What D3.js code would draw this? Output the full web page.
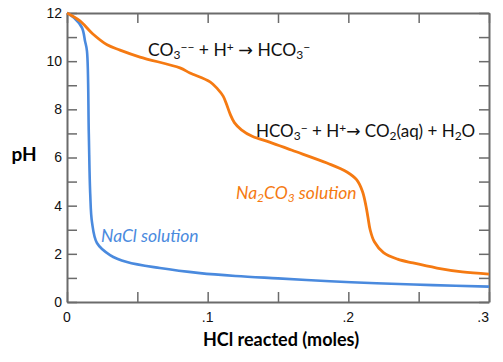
<!DOCTYPE html>
<html>
<head>
<meta charset="utf-8">
<script src="https://cdn.jsdelivr.net/npm/d3@7"></script>
<style>
  body { margin: 0; background: #fff; }
  .tick-label { font-family: "Liberation Sans", Arial, sans-serif; font-size: 14px; fill: #111; }
  .note { font-family: Lato, sans-serif; font-size: 17.5px; fill: #111; }
  .arrow { font-family: "DejaVu Sans", sans-serif; }
</style>
</head>
<body>
<svg width="503" height="362"></svg>
<script>
// Titration curves, pH vs HCl reacted (moles)
var naclX  = [0, 0.005, 0.0107, 0.0128, 0.0142, 0.0155, 0.0165, 0.0178, 0.0213, 0.0306, 0.0426, 0.066, 0.0945, 0.12, 0.15, 0.187, 0.22, 0.26, 0.3];
var naclPH = [12, 11.8, 11.38, 10.84, 10.42, 7.0, 4.5, 3.3, 2.45, 1.95, 1.66, 1.41, 1.2, 1.08, 0.98, 0.86, 0.78, 0.7, 0.64];

var carbX  = [0, 0.0092, 0.018, 0.0285, 0.0377, 0.0519, 0.0803, 0.0874, 0.1017, 0.107, 0.111, 0.1135, 0.116, 0.119, 0.124, 0.132, 0.144, 0.16, 0.1848, 0.199, 0.206, 0.21, 0.2125, 0.214, 0.2155, 0.2185, 0.225, 0.235, 0.246, 0.263, 0.281, 0.3];
var carbPH = [12, 11.67, 11.15, 10.68, 10.46, 10.17, 9.72, 9.51, 9.14, 8.85, 8.55, 8.2, 7.8, 7.45, 7.15, 6.87, 6.64, 6.3, 5.77, 5.4, 5.07, 4.6, 4.0, 3.5, 3.0, 2.5, 2.05, 1.78, 1.62, 1.41, 1.25, 1.16];

var xTicks = [0, 0.05, 0.1, 0.15, 0.2, 0.25, 0.3];
var xTickLabels = ['0', '', '.1', '', '.2', '', '.3'];
var yTicks = [0, 1, 2, 3, 4, 5, 6, 7, 8, 9, 10, 11, 12];

var svg = d3.select('svg');
var padding = {t: 13, r: 14, b: 60, l: 67};
var chartWidth = 503 - padding.l - padding.r;
var chartHeight = 362 - padding.t - padding.b;

var chartG = svg.append('g')
    .attr('transform', 'translate(' + [padding.l, padding.t] + ')');

var xScale = d3.scaleLinear().domain([0, 0.3]).range([0, chartWidth]);
var yScale = d3.scaleLinear().domain([0, 12]).range([chartHeight, 0]);

var axisColor = '#6b6b6b';
var tickLen = 10;

// frame axes, ticks point inwards
function styleAxis(g) {
    g.select('.domain').attr('stroke', axisColor).attr('stroke-width', 2);
    g.selectAll('.tick line').attr('stroke', axisColor).attr('stroke-width', 1.5);
    g.selectAll('.tick text').remove();
}

chartG.append('g')
    .attr('transform', 'translate(0,' + chartHeight + ')')
    .call(d3.axisTop(xScale).tickValues(xTicks).tickSize(tickLen).tickSizeOuter(0))
    .call(styleAxis);
chartG.append('g')
    .call(d3.axisBottom(xScale).tickValues(xTicks).tickSize(tickLen).tickSizeOuter(0))
    .call(styleAxis);
chartG.append('g')
    .call(d3.axisRight(yScale).tickValues(yTicks).tickSize(tickLen).tickSizeOuter(0))
    .call(styleAxis);
chartG.append('g')
    .attr('transform', 'translate(' + chartWidth + ',0)')
    .call(d3.axisLeft(yScale).tickValues(yTicks).tickSize(tickLen).tickSizeOuter(0))
    .call(styleAxis);

// tick labels
chartG.selectAll('.xlab').data(xTicks).enter().append('text')
    .attr('class', 'tick-label')
    .attr('x', function(d) { return xScale(d); })
    .attr('y', chartHeight + 20)
    .attr('text-anchor', function(d, i) { return i === xTicks.length - 1 ? 'end' : 'middle'; })
    .text(function(d, i) { return xTickLabels[i]; });

chartG.selectAll('.ylab').data(yTicks.filter(function(d) { return d % 2 === 0; })).enter().append('text')
    .attr('class', 'tick-label')
    .attr('x', -5)
    .attr('y', function(d) { return yScale(d); })
    .attr('dy', '0.35em')
    .attr('text-anchor', 'end')
    .text(function(d) { return d; });

// curves
var line = d3.line()
    .x(function(d) { return xScale(d[0]); })
    .y(function(d) { return yScale(d[1]); })
    .curve(d3.curveCatmullRom.alpha(0.5));

chartG.append('path')
    .datum(d3.zip(naclX, naclPH))
    .attr('fill', 'none')
    .attr('stroke', '#4a8ade')
    .attr('stroke-width', 2.6)
    .attr('d', line);

chartG.append('path')
    .datum(d3.zip(carbX, carbPH))
    .attr('fill', 'none')
    .attr('stroke', '#f57a12')
    .attr('stroke-width', 2.8)
    .attr('d', line);

// axis titles
svg.append('text')
    .attr('x', 24).attr('y', 154).attr('dy', '0.35em')
    .attr('text-anchor', 'middle')
    .style('font-family', 'Lato, sans-serif')
    .style('font-weight', 'bold').style('font-size', '19px')
    .text('pH');

svg.append('text')
    .attr('x', 281).attr('y', 346)
    .attr('text-anchor', 'middle')
    .style('font-family', 'Lato, sans-serif')
    .style('font-weight', 'bold').style('font-size', '18px')
    .text('HCl reacted (moles)');

// rich text helper: parts of [text, 'sub'|'sup'|'arrow'|null]
function rich(x, y, parts, cls, fill, italic) {
    var t = svg.append('text').attr('class', cls).attr('x', x).attr('y', y);
    if (fill) t.style('fill', fill);
    if (italic) t.style('font-style', 'italic');
    parts.forEach(function(p) {
        var s = t.append('tspan').text(p[0]);
        if (p[1] === 'sub') s.attr('baseline-shift', '-25%').style('font-size', '12px');
        if (p[1] === 'sup') s.attr('baseline-shift', '40%').style('font-size', '12px');
        if (p[1] === 'arrow') s.attr('class', 'arrow');
    });
    return t;
}

rich(148, 56, [['CO'], ['3', 'sub'], ['\u2212\u2212', 'sup'], [' + H'], ['+', 'sup'], [' '], ['\u2192', 'arrow'], [' HCO'], ['3', 'sub'], ['\u2212', 'sup']], 'note');
rich(256, 137, [['HCO'], ['3', 'sub'], ['\u2212', 'sup'], [' + H'], ['+', 'sup'], [''], ['\u2192', 'arrow'], [' CO'], ['2', 'sub'], ['(aq) + H'], ['2', 'sub'], ['O']], 'note')
    .style('font-size', '17px');
rich(236, 199, [['Na'], ['2', 'sub'], ['CO'], ['3', 'sub'], [' solution']], 'note', '#f57a12', true);
rich(101, 242, [['NaCl solution']], 'note', '#4a8ade', true);
</script>
</body>
</html>
